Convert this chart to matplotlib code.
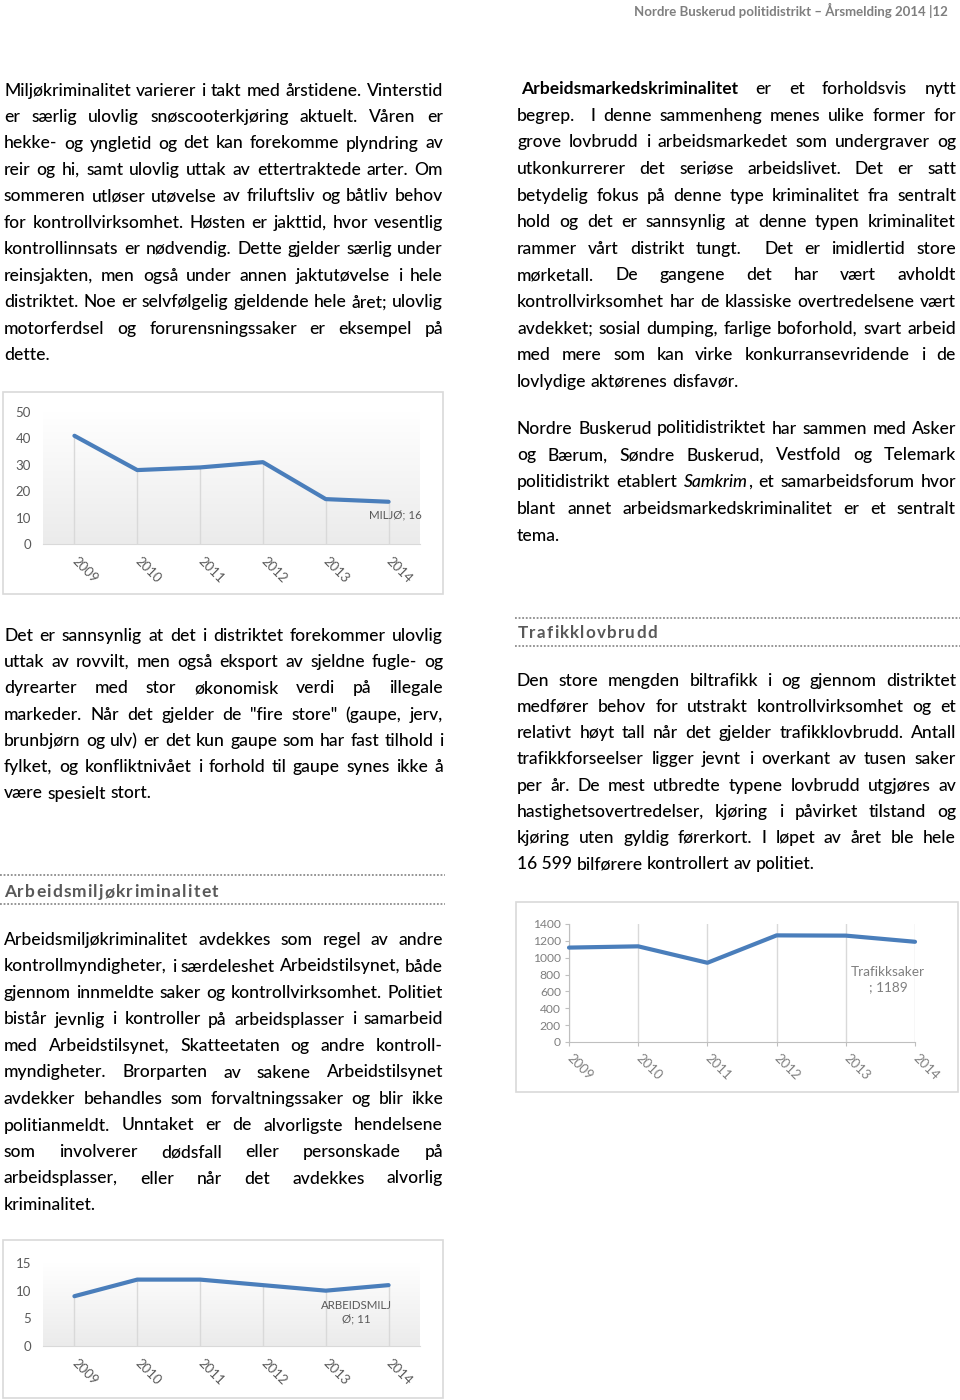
import re
import numpy as np
import matplotlib
matplotlib.use('Agg')
import matplotlib.pyplot as plt
from matplotlib.colors import LinearSegmentedColormap
from matplotlib.lines import Line2D
from matplotlib.patches import Rectangle

plt.rcParams['font.family'] = ['Lato', 'DejaVu Sans']

# ---------------- data ----------------
years = ['2009', '2010', '2011', '2012', '2013', '2014']
miljo_values = [41, 28, 29, 31, 17, 16]
trafikk_values = [1120, 1135, 940, 1265, 1262, 1189]
arbeidsmiljo_values = [9, 12, 12, 11, 10, 11]

miljo_label = 'MILJØ; 16'
trafikk_label = 'Trafikksaker\n; 1189'
arbeidsmiljo_label = 'ARBEIDSMILJ\nØ; 11'

miljo_yticks = [0, 10, 20, 30, 40, 50]
trafikk_yticks = [0, 200, 400, 600, 800, 1000, 1200, 1400]
arbeidsmiljo_yticks = [0, 5, 10, 15]

header_text = 'Nordre Buskerud politidistrikt – Årsmelding 2014 |12'
heading_arbeidsmiljo = 'Arbeidsmiljøkriminalitet'
heading_trafikk = 'Trafikklovbrudd'

para_miljo = [
    "Miljøkriminalitet varierer i takt med årstidene. Vinterstid",
    "er særlig ulovlig snøscooterkjøring aktuelt. Våren er",
    "hekke- og yngletid og det kan forekomme plyndring av",
    "reir og hi, samt ulovlig uttak av ettertraktede arter. Om",
    "sommeren utløser utøvelse av friluftsliv og båtliv behov",
    "for kontrollvirksomhet. Høsten er jakttid, hvor vesentlig",
    "kontrollinnsats er nødvendig. Dette gjelder særlig under",
    "reinsjakten, men også under annen jaktutøvelse i hele",
    "distriktet. Noe er selvfølgelig gjeldende hele året; ulovlig",
    "motorferdsel og forurensningssaker er eksempel på",
    "dette.",
]

para_rovvilt = [
    "Det er sannsynlig at det i distriktet forekommer ulovlig",
    "uttak av rovvilt, men også eksport av sjeldne fugle- og",
    "dyrearter med stor økonomisk verdi på illegale",
    "markeder. Når det gjelder de \"fire store\" (gaupe, jerv,",
    "brunbjørn og ulv) er det kun gaupe som har fast tilhold i",
    "fylket, og konfliktnivået i forhold til gaupe synes ikke å",
    "være spesielt stort.",
]

para_arbeidsmiljo = [
    "Arbeidsmiljøkriminalitet avdekkes som regel av andre",
    "kontrollmyndigheter, i særdeleshet Arbeidstilsynet, både",
    "gjennom innmeldte saker og kontrollvirksomhet. Politiet",
    "bistår jevnlig i kontroller på arbeidsplasser i samarbeid",
    "med Arbeidstilsynet, Skatteetaten og andre kontroll-",
    "myndigheter. Brorparten av sakene Arbeidstilsynet",
    "avdekker behandles som forvaltningssaker og blir ikke",
    "politianmeldt. Unntaket er de alvorligste hendelsene",
    "som involverer dødsfall eller personskade på",
    "arbeidsplasser, eller når det avdekkes alvorlig",
    "kriminalitet.",
]

para_arbeidsmarked = [
    " **Arbeidsmarkedskriminalitet** er et forholdsvis nytt",
    "begrep.  I denne sammenheng menes ulike former for",
    "grove lovbrudd i arbeidsmarkedet som undergraver og",
    "utkonkurrerer det seriøse arbeidslivet. Det er satt",
    "betydelig fokus på denne type kriminalitet fra sentralt",
    "hold og det er sannsynlig at denne typen kriminalitet",
    "rammer vårt distrikt tungt.  Det er imidlertid store",
    "mørketall. De gangene det har vært avholdt",
    "kontrollvirksomhet har de klassiske overtredelsene vært",
    "avdekket; sosial dumping, farlige boforhold, svart arbeid",
    "med mere som kan virke konkurransevridende i de",
    "lovlydige aktørenes disfavør.",
]

para_samkrim = [
    "Nordre Buskerud politidistriktet har sammen med Asker",
    "og Bærum, Søndre Buskerud, Vestfold og Telemark",
    "politidistrikt etablert *Samkrim*, et samarbeidsforum hvor",
    "blant annet arbeidsmarkedskriminalitet er et sentralt",
    "tema.",
]

para_trafikk = [
    "Den store mengden biltrafikk i og gjennom distriktet",
    "medfører behov for utstrakt kontrollvirksomhet og et",
    "relativt høyt tall når det gjelder trafikklovbrudd. Antall",
    "trafikkforseelser ligger jevnt i overkant av tusen saker",
    "per år. De mest utbredte typene lovbrudd utgjøres av",
    "hastighetsovertredelser, kjøring i påvirket tilstand og",
    "kjøring uten gyldig førerkort. I løpet av året ble hele",
    "16\u00a0599 bilførere kontrollert av politiet.",
]

# ---------------- figure / helpers ----------------
W, H, DPI = 960, 1400, 100
PT = 72.0 / DPI
fig = plt.figure(figsize=(W / DPI, H / DPI), dpi=DPI)
fig.patch.set_facecolor('white')
renderer = fig.canvas.get_renderer()

TEXT_C = '#000000'
LINE_C = '#4a7ebb'
GRID_C = '#d9d9d9'
LABEL_C = '#595959'
BODY_W = 'medium'


def fx(px):
    return px / W


def fy(py):
    return 1 - py / H


_cache = {}


def tw(s, size, weight='normal', style='normal'):
    key = (s, size, weight, style)
    if key not in _cache:
        t = fig.text(0, 0, s, fontsize=size, fontweight=weight, fontstyle=style)
        _cache[key] = t.get_window_extent(renderer).width
        t.remove()
    return _cache[key]


def space_w(size, weight=BODY_W):
    return tw('a a', size, weight) - tw('aa', size, weight)


def parse_word(tok):
    segs = []
    for m in re.finditer(r'\*\*[^*]+\*\*|\*[^*]+\*|[^*]+', tok):
        s = m.group(0)
        if s.startswith('**'):
            segs.append((s[2:-2], 'bold', 'normal'))
        elif s.startswith('*'):
            segs.append((s[1:-1], BODY_W, 'italic'))
        else:
            segs.append((s, BODY_W, 'normal'))
    return segs


def parse_line(line):
    lead = len(line) - len(line.lstrip(' '))
    tokens = line.strip(' ').split(' ')
    words, gaps = [], []
    pending = 0
    for tok in tokens:
        if tok == '':
            pending += 1
            continue
        if words:
            gaps.append(1 + pending)
        pending = 0
        words.append(parse_word(tok))
    return lead, words, gaps


def word_w(word, size):
    return sum(tw(s, size, wt, st) for s, wt, st in word)


def natural_w(line, size):
    lead, words, gaps = parse_line(line)
    sp = space_w(size)
    return lead * sp + sum(word_w(w, size) for w in words) + sum(gaps) * sp * 0.8


def draw_line(line, x0, x1, baseline, justify, size):
    if justify:
        nat = natural_w(line, size)
        if nat > (x1 - x0):
            size = round(size * (x1 - x0) / nat * 0.998, 2)
    lead, words, gaps = parse_line(line)
    sp = space_w(size)
    total = sum(word_w(w, size) for w in words)
    if justify and gaps:
        unit = (x1 - x0 - lead * sp - total) / sum(gaps)
    else:
        unit = sp
    x = x0 + lead * sp
    for i, w in enumerate(words):
        for s, wt, st in w:
            fig.text(fx(x), fy(baseline), s, fontsize=size, fontweight=wt,
                     fontstyle=st, color=TEXT_C, ha='left', va='baseline')
            x += tw(s, size, wt, st)
        if i < len(gaps):
            x += gaps[i] * unit


def draw_paragraph(lines, x0, x1, first_baseline, pitch, size):
    for i, line in enumerate(lines):
        draw_line(line, x0, x1, first_baseline + i * pitch, i < len(lines) - 1, size)


def draw_tracked(text, x0, x1, baseline, weight, color, track=1.2):
    s0 = 10.0
    nat = sum(space_w(s0, weight) if c == ' ' else tw(c, s0, weight) for c in text)
    size = round(s0 * (x1 - x0 - (len(text) - 1) * track) / nat, 2)
    widths = [space_w(size, weight) if c == ' ' else tw(c, size, weight) for c in text]
    gap = (x1 - x0 - sum(widths)) / (len(text) - 1)
    x = x0
    for c, w in zip(text, widths):
        if c != ' ':
            fig.text(fx(x), fy(baseline), c, fontsize=size, fontweight=weight,
                     color=color, ha='left', va='baseline')
        x += w + gap


# ---------------- body text ----------------
BODY = 12.6

draw_paragraph(para_miljo, 4, 443, 95.6, 26.45, BODY)
draw_paragraph(para_arbeidsmarked, 517, 956, 94.2, 26.6, BODY)
draw_paragraph(para_samkrim, 517, 956, 433.5, 26.8, BODY)
draw_paragraph(para_rovvilt, 4, 443, 640.7, 26.3, BODY)
draw_paragraph(para_trafikk, 517, 956, 685.8, 26.2, BODY)
draw_paragraph(para_arbeidsmiljo, 4, 443, 945.0, 26.5, BODY)

# ---------------- header ----------------
hs = 9.0
hs = hs * 314 / tw(header_text, hs, 'bold')
fig.text(fx(948), fy(15.8), header_text, fontsize=hs, fontweight='bold',
         color='#7f7f7f', ha='right', va='baseline')

# ---------------- section headings ----------------
def heading(text, x0, x1, baseline, line_top, line_bot, lx0, lx1):
    for yy in (line_top, line_bot):
        fig.add_artist(Line2D([fx(lx0), fx(lx1)], [fy(yy), fy(yy)], transform=fig.transFigure,
                              color='#8c8c8c', lw=1.3, ls=(0, (1, 1))))
    draw_tracked(text, x0, x1, baseline, 'bold', '#595959')


heading(heading_arbeidsmiljo, 4, 218, 897.3, 875, 903.5, 0, 445)
heading(heading_trafikk, 518, 657, 637.7, 618.3, 645.7, 515, 960)

# ---------------- charts ----------------
def box(l, t, r, b):
    fig.add_artist(Rectangle((fx(l), fy(b)), (r - l) / W, (b - t) / H,
                             transform=fig.transFigure, fill=False, ec=GRID_C, lw=1.2))


def make_axes(l, t, r, b):
    return fig.add_axes([fx(l), fy(b), (r - l) / W, (b - t) / H])


grad_cmap = LinearSegmentedColormap.from_list('g', ['#ffffff', '#ebebeb'])


def category_chart(area, values, yticks, label, off_px, label_size):
    ax = make_axes(*area)
    ax.set_facecolor('none')
    ax.imshow(np.linspace(0, 1, 256).reshape(-1, 1), cmap=grad_cmap, aspect='auto',
              extent=[0, 1, 0, 1], transform=ax.transAxes, zorder=0)
    x = np.arange(len(years))
    ax.vlines(x, 0, values, color=GRID_C, lw=1, zorder=1)
    ax.plot(x, values, color=LINE_C, lw=3, solid_joinstyle='round',
            solid_capstyle='round', zorder=3, clip_on=False)
    ax.set_xlim(-0.5, len(years) - 0.5)
    ax.set_ylim(yticks[0], yticks[-1])
    for s in ('top', 'right', 'left'):
        ax.spines[s].set_visible(False)
    ax.spines['bottom'].set_color(GRID_C)
    ax.set_yticks(yticks)
    ax.tick_params(axis='y', length=0, pad=12 * PT, labelsize=9.5, labelcolor=LABEL_C)
    ax.set_xticks(x)
    ax.set_xticklabels(years, rotation=-45, ha='left', va='center', rotation_mode='anchor')
    ax.tick_params(axis='x', length=0, pad=15 * PT, labelsize=9.5, labelcolor=LABEL_C)
    ax.annotate(label, xy=(x[-1], values[-1]), xytext=(off_px[0] * PT, off_px[1] * PT),
                textcoords='offset points', ha='center', va='center', fontsize=label_size,
                color=LABEL_C, linespacing=1.25)
    return ax


# Chart 1: Miljø
box(3, 392, 443, 594)
category_chart((43, 412, 420, 544), miljo_values, miljo_yticks, miljo_label, (6.5, -13), 8.3)

# Chart 3: Arbeidsmiljø
box(3, 1240, 443, 1398)
category_chart((43, 1263, 420, 1346), arbeidsmiljo_values, arbeidsmiljo_yticks,
               arbeidsmiljo_label, (-32.5, -27.4), 8.3)

# Chart 2: Trafikk
box(516, 902, 958, 1092)
ax2 = make_axes(569, 924, 915, 1042)
x2 = np.arange(len(years))
ax2.plot(x2, trafikk_values, color=LINE_C, lw=3, solid_joinstyle='round',
         solid_capstyle='round', zorder=3, clip_on=False)
ax2.set_xlim(0, len(years) - 1)
ax2.set_ylim(trafikk_yticks[0], trafikk_yticks[-1])
ax2.set_xticks(x2)
ax2.grid(axis='x', color=GRID_C, lw=1, zorder=0)
ax2.set_axisbelow(True)
for s in ('top', 'right'):
    ax2.spines[s].set_visible(False)
for s in ('left', 'bottom'):
    ax2.spines[s].set_color('#bfbfbf')
ax2.set_yticks(trafikk_yticks)
ax2.tick_params(axis='y', length=4 * PT, color='#bfbfbf', direction='out',
                labelsize=8.7, labelcolor='#7f7f7f', pad=4 * PT)
ax2.set_xticklabels(years, rotation=-45, ha='left', va='center', rotation_mode='anchor')
ax2.tick_params(axis='x', length=4 * PT, color='#bfbfbf', direction='out',
                labelsize=9.5, labelcolor='#7f7f7f', pad=10 * PT)
ax2.annotate(trafikk_label, xy=(x2[-1], trafikk_values[-1]), xytext=(-27 * PT, -37.7 * PT),
             textcoords='offset points', ha='center', va='center', fontsize=9.8,
             color='#7f7f7f', linespacing=1.3)

fig.savefig('out.png', dpi=DPI, facecolor='white')
